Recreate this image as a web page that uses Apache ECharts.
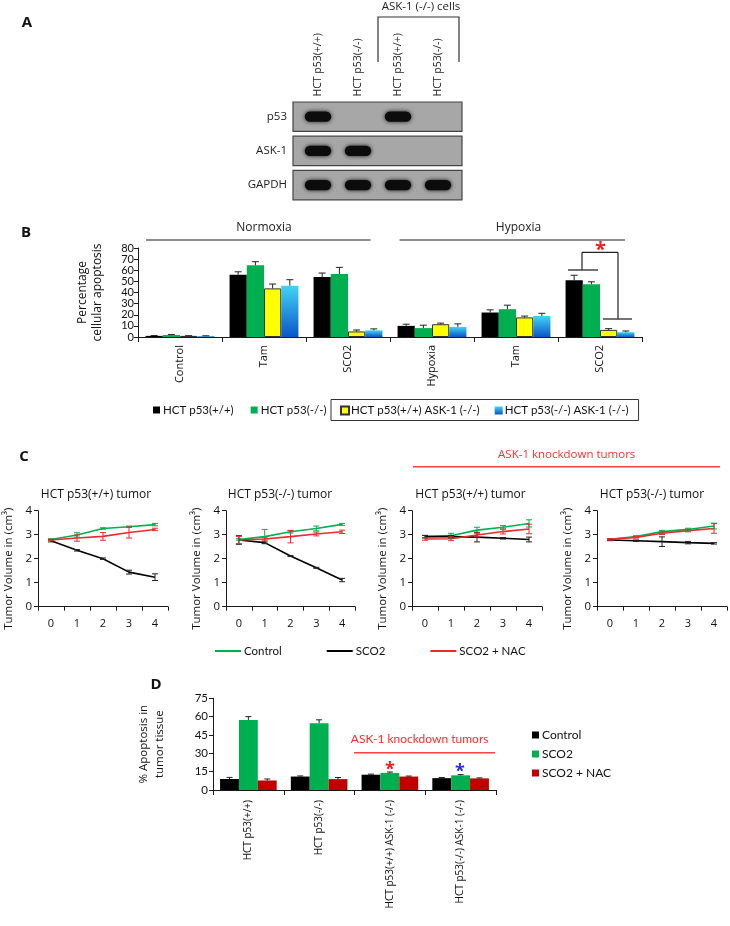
<!DOCTYPE html>
<html>
<head>
<meta charset="utf-8">
<script src="https://cdn.jsdelivr.net/npm/echarts@6/dist/echarts.min.js"></script>
<style>html,body{margin:0;padding:0;background:#fff}#c{width:730px;height:926px}</style>
</head>
<body>
<div id="c"></div>
<script>
// ---------- Panel A : western blot ----------
const laneLabels = ['HCT p53(+/+)', 'HCT p53(-/-)', 'HCT p53(+/+)', 'HCT p53(-/-)'];
const blotRows = ['p53', 'ASK-1', 'GAPDH'];
const bandP53 = [1, 0, 1, 0];
const bandASK1 = [1, 1, 0, 0];
const bandGAPDH = [1, 1, 1, 1];

// ---------- Panel B : cellular apoptosis ----------
const bCategories = ['Control', 'Tam', 'SCO2', 'Hypoxia', 'Tam', 'SCO2'];
const bNames = ['HCT p53(+/+)', 'HCT p53(-/-)', 'HCT p53(+/+) ASK-1 (-/-)', 'HCT p53(-/-) ASK-1 (-/-)'];
const bWT = [1, 56, 54, 10, 22, 51];
const bWTErr = [0.3, 2.6, 3.5, 1.5, 2.4, 4.5];
const bKO = [1.8, 64.4, 56.6, 8, 25, 47.5];
const bKOErr = [0.5, 3.3, 6, 2.6, 3.6, 2.1];
const bWTask = [1, 43.7, 5, 11.5, 17.6, 6.4];
const bWTaskErr = [0.2, 3.9, 1.3, 1, 1.2, 1.1];
const bKOask = [0.8, 46.1, 6, 9.1, 18.9, 4.3];
const bKOaskErr = [0.3, 5.4, 1.3, 2.7, 2.4, 1.1];

// ---------- Panel C : tumor volume ----------
const cDays = ['0', '1', '2', '3', '4'];
const cTitles = ['HCT p53(+/+) tumor', 'HCT p53(-/-) tumor', 'HCT p53(+/+) tumor', 'HCT p53(-/-) tumor'];
const cSeriesNames = ['Control', 'SCO2', 'SCO2 + NAC'];
const c1Control = [2.80, 2.99, 3.26, 3.33, 3.42];
const c1ControlErr = [0.03, 0.09, 0.03, 0.03, 0.05];
const c1SCO2 = [2.75, 2.35, 2.00, 1.44, 1.23];
const c1SCO2Err = [0.05, 0.03, 0.03, 0.08, 0.14];
const c1NAC = [2.78, 2.86, 2.93, 3.09, 3.22];
const c1NACErr = [0.03, 0.13, 0.16, 0.23, 0.05];
const c2Control = [2.80, 2.92, 3.12, 3.26, 3.43];
const c2ControlErr = [0.03, 0.30, 0.05, 0.10, 0.04];
const c2SCO2 = [2.78, 2.67, 2.11, 1.62, 1.11];
const c2SCO2Err = [0.18, 0.03, 0.02, 0.02, 0.07];
const c2NAC = [2.78, 2.82, 2.92, 3.03, 3.12];
const c2NACErr = [0.15, 0.05, 0.26, 0.08, 0.07];
const c3Control = [2.92, 2.96, 3.19, 3.31, 3.47];
const c3ControlErr = [0.05, 0.10, 0.12, 0.07, 0.15];
const c3SCO2 = [2.92, 2.92, 2.90, 2.85, 2.80];
const c3SCO2Err = [0.05, 0.05, 0.20, 0.03, 0.10];
const c3NAC = [2.82, 2.83, 2.99, 3.13, 3.24];
const c3NACErr = [0.05, 0.08, 0.08, 0.10, 0.20];
const c4Control = [2.81, 2.92, 3.13, 3.22, 3.36];
const c4ControlErr = [0.03, 0.04, 0.05, 0.05, 0.12];
const c4SCO2 = [2.78, 2.75, 2.71, 2.67, 2.64];
const c4SCO2Err = [0.03, 0.03, 0.20, 0.05, 0.03];
const c4NAC = [2.81, 2.89, 3.06, 3.17, 3.26];
const c4NACErr = [0.03, 0.03, 0.05, 0.05, 0.20];

// ---------- Panel D : apoptosis in tumor tissue ----------
const dCategories = ['HCT p53(+/+)', 'HCT p53(-/-)', 'HCT p53(+/+) ASK-1 (-/-)', 'HCT p53(-/-) ASK-1 (-/-)'];
const dNames = ['Control', 'SCO2', 'SCO2 + NAC'];
const dControl = [9, 11, 12.5, 9.7];
const dControlErr = [1.3, 0.5, 0.5, 0.5];
const dSCO2 = [57.3, 54.6, 14, 12];
const dSCO2Err = [2.7, 2.8, 0.7, 0.6];
const dNAC = [7.8, 8.9, 11, 9.5];
const dNACErr = [1.2, 1.3, 0.4, 0.4];

// ---------- styles ----------
const FA = '"Open Sans", sans-serif';
const FB = 'Lato, sans-serif';
const BLACK = '#000000', GREEN = '#00b050', YELLOW = '#ffff00', DRED = '#c00000', LRED = '#ee2a2a';
const BLUE = new echarts.graphic.LinearGradient(0, 0, 0, 1, [
  { offset: 0, color: '#42d4f4' }, { offset: 1, color: '#0a55c8' }]);

const chart = echarts.init(document.getElementById('c'), null, { renderer: 'canvas', width: 730, height: 926, devicePixelRatio: 1 });

const cLefts = [38, 226, 412, 597];
const cWidths = [130, 129, 130, 130];
const grids = [
  { left: 298, top: 99.6, width: 160, height: 102.6 },
  { left: 138, top: 248, width: 504, height: 89 },
].concat(cLefts.map((l, i) => ({ left: l, top: 510.7, width: cWidths[i], height: 96 })))
 .concat([{ left: 213, top: 698.3, width: 283, height: 91.7 }]);
grids.forEach(g => { g.outerBoundsMode = 'none'; g.containLabel = false; });

const axLine = { show: true, lineStyle: { color: '#1a1a1a', width: 1 } };
const axTick = (len) => ({ show: true, length: len, lineStyle: { color: '#1a1a1a', width: 1 } });

const xAxes = [], yAxes = [];
// A
xAxes.push({ gridIndex: 0, type: 'category', data: laneLabels, position: 'top',
  axisLine: { show: false }, axisTick: { show: false },
  axisLabel: { rotate: -90, margin: 3, interval: 0, fontSize: 10.5, fontFamily: FA, color: '#222' } });
yAxes.push({ gridIndex: 0, type: 'category', data: blotRows, inverse: true,
  axisLine: { show: false }, axisTick: { show: false },
  axisLabel: { margin: 11, fontSize: 11.5, fontFamily: FA, color: '#222' } });
// B
xAxes.push({ gridIndex: 1, type: 'category', data: bCategories,
  axisLine: axLine, axisTick: axTick(5),
  axisLabel: { rotate: 90, margin: 8, interval: 0, fontSize: 11, fontFamily: FA, color: '#111' } });
yAxes.push({ gridIndex: 1, type: 'value', min: 0, max: 80, interval: 10,
  axisLine: axLine, axisTick: axTick(4), splitLine: { show: false },
  axisLabel: { margin: 4, fontSize: 11, fontFamily: FB, color: '#111', lineHeight: 8,
    showMinLabel: true, showMaxLabel: true, hideOverlap: false },
  name: 'Percentage\ncellular apoptosis', nameLocation: 'middle', nameGap: 33,
  nameTextStyle: { fontSize: 12, fontFamily: FA, color: '#111', lineHeight: 15 } });
// C
for (let i = 0; i < 4; i++) {
  xAxes.push({ gridIndex: 2 + i, type: 'category', data: cDays,
    axisLine: axLine, axisTick: axTick(4),
    axisLabel: { margin: 12, fontSize: 11, fontFamily: FA, color: '#111' } });
  yAxes.push({ gridIndex: 2 + i, type: 'value', min: 0, max: 4, interval: 1,
    axisLine: axLine, axisTick: axTick(4), splitLine: { show: false },
    axisLabel: { margin: 6, fontSize: 11.5, fontFamily: FA, color: '#111', showMinLabel: true, showMaxLabel: true },
    name: 'Tumor Volume in (cm³)', nameLocation: 'middle', nameGap: 23,
    nameTextStyle: { fontSize: 11.5, fontFamily: FA, color: '#111', padding: [0, 20, 0, 0] } });
}
// D
xAxes.push({ gridIndex: 6, type: 'category', data: dCategories,
  axisLine: axLine, axisTick: axTick(5),
  axisLabel: { rotate: 90, margin: 10, interval: 0, fontSize: 10, fontFamily: FA, color: '#111' } });
yAxes.push({ gridIndex: 6, type: 'value', min: 0, max: 75, interval: 15,
  axisLine: axLine, axisTick: axTick(4), splitLine: { show: false },
  axisLabel: { margin: 5, fontSize: 11.5, fontFamily: FB, color: '#111', showMinLabel: true, showMaxLabel: true },
  name: '% Apoptosis in\ntumor tissue', nameLocation: 'middle', nameGap: 45,
  nameTextStyle: { fontSize: 11.5, fontFamily: FA, color: '#111', lineHeight: 16 } });

// error bar helper
function errSeries(ax, vals, errs, idx, n, gapFrac, upOnly, color, cap) {
  return {
    type: 'custom', xAxisIndex: ax, yAxisIndex: ax, z: 6, silent: true,
    data: vals.map((v, i) => [i, v, errs[i]]),
    encode: { x: 0, y: 1 },
    renderItem(params, api) {
      const c = api.value(0), v = api.value(1), e = api.value(2);
      const band = api.size([1, 0])[0];
      let off = 0;
      if (n > 1) { const gw = band * (1 - gapFrac); const bw = gw / n; off = -gw / 2 + bw * (idx + 0.5); }
      const top = api.coord([c, v + e]);
      const bot = api.coord([c, upOnly ? v : v - e]);
      const x = top[0] + off;
      const st = { stroke: color, lineWidth: 1 };
      const ch = [
        { type: 'line', shape: { x1: x, y1: bot[1], x2: x, y2: top[1] }, style: st },
        { type: 'line', shape: { x1: x - cap, y1: top[1], x2: x + cap, y2: top[1] }, style: st }
      ];
      if (!upOnly) ch.push({ type: 'line', shape: { x1: x - cap, y1: bot[1], x2: x + cap, y2: bot[1] }, style: st });
      return { type: 'group', children: ch };
    }
  };
}

const series = [];
// A: blot boxes and bands
series.push({
  type: 'custom', xAxisIndex: 0, yAxisIndex: 0, silent: true, z: 1,
  data: blotRows.map((r, i) => [0, i]), encode: { x: 0, y: 1 },
  renderItem(params, api) {
    const cs = params.coordSys;
    const y = api.coord([0, api.value(1)])[1];
    const h = api.size([0, 1])[1] * 0.86;
    return { type: 'rect', shape: { x: cs.x - 5, y: y - h / 2, width: cs.width + 9, height: h },
      style: { fill: '#a7a7a7', stroke: '#454545', lineWidth: 1.2 } };
  }
});
const bandRows = [bandP53, bandASK1, bandGAPDH];
const bandData = [];
bandRows.forEach((row, r) => row.forEach((v, l) => { if (v > 0) bandData.push([l, r, v]); }));
series.push({
  type: 'custom', xAxisIndex: 0, yAxisIndex: 0, silent: true, z: 2,
  data: bandData, encode: { x: 0, y: 1 },
  renderItem(params, api) {
    const p = api.coord([api.value(0), api.value(1)]);
    const s = api.size([1, 1]);
    const w = s[0] * 0.66, h = s[1] * 0.3;
    return { type: 'rect', shape: { x: p[0] - w / 2, y: p[1] - h / 2, width: w, height: h, r: h / 2 },
      style: { fill: '#0c0c0c', shadowBlur: 4, shadowColor: 'rgba(0,0,0,0.85)' } };
  }
});

// B bars
const bVals = [bWT, bKO, bWTask, bKOask];
const bErrs = [bWTErr, bKOErr, bWTaskErr, bKOaskErr];
const bColors = [BLACK, GREEN, YELLOW, BLUE];
bVals.forEach((vals, i) => {
  series.push({
    name: bNames[i], type: 'bar', xAxisIndex: 1, yAxisIndex: 1,
    barGap: '0%', barCategoryGap: '18%', data: vals,
    itemStyle: i === 2 ? { color: YELLOW, borderColor: '#333', borderWidth: 1 } : { color: bColors[i] }
  });
});
bVals.forEach((vals, i) => series.push(errSeries(1, vals, bErrs[i], i, 4, 0.18, true, '#222', 3.5)));

// C lines
const cData = [
  [c1Control, c1SCO2, c1NAC], [c2Control, c2SCO2, c2NAC],
  [c3Control, c3SCO2, c3NAC], [c4Control, c4SCO2, c4NAC]];
const cErr = [
  [c1ControlErr, c1SCO2Err, c1NACErr], [c2ControlErr, c2SCO2Err, c2NACErr],
  [c3ControlErr, c3SCO2Err, c3NACErr], [c4ControlErr, c4SCO2Err, c4NACErr]];
const cColors = [GREEN, BLACK, LRED];
for (let g = 0; g < 4; g++) {
  for (let s = 0; s < 3; s++) {
    series.push({
      name: cSeriesNames[s], type: 'line', xAxisIndex: 2 + g, yAxisIndex: 2 + g,
      data: cData[g][s], symbol: 'none', z: 3,
      lineStyle: { color: cColors[s], width: 1.6 }, itemStyle: { color: cColors[s] }
    });
    series.push(errSeries(2 + g, cData[g][s], cErr[g][s], 0, 1, 0, false, s === 1 ? '#222' : cColors[s], 3));
  }
}

// D bars
const dVals = [dControl, dSCO2, dNAC];
const dErrs = [dControlErr, dSCO2Err, dNACErr];
const dColors = [BLACK, GREEN, DRED];
dVals.forEach((vals, i) => {
  series.push({
    name: dNames[i], type: 'bar', xAxisIndex: 6, yAxisIndex: 6,
    barGap: '0%', barCategoryGap: '20%', data: vals, itemStyle: { color: dColors[i] }
  });
});
dVals.forEach((vals, i) => series.push(errSeries(6, vals, dErrs[i], i, 3, 0.2, true, '#222', 3)));

// legends
const legends = [
  { data: [bNames[0], bNames[1]], left: 153, top: 404, padding: 0, itemWidth: 7, itemHeight: 7, itemGap: 17,
    icon: 'rect', textStyle: { fontSize: 11.5, fontFamily: FB, color: '#111', padding: [0, 0, 0, -2] } },
  { data: [bNames[2], bNames[3]], left: 331, top: 399.5, padding: [5, 10, 4, 9], itemWidth: 8, itemHeight: 8, itemGap: 15,
    borderColor: '#333', borderWidth: 1, icon: 'rect',
    textStyle: { fontSize: 11.5, fontFamily: FB, color: '#111', padding: [0, 0, 0, -3] } },
  { data: cSeriesNames, left: 215, top: 645, padding: 0, itemWidth: 26, itemHeight: 2, itemGap: 45, icon: 'rect',
    textStyle: { fontSize: 11.5, fontFamily: FB, color: '#111', padding: [0, 0, 0, -2] } },
  { data: dNames.map((n, i) => ({ name: n, itemStyle: { color: dColors[i] } })), orient: 'vertical',
    left: 532, top: 728, padding: 0, itemWidth: 7, itemHeight: 7, itemGap: 5, icon: 'rect',
    textStyle: { fontSize: 12, fontFamily: FB, color: '#111', lineHeight: 14, padding: [0, 0, 0, -2] } }
];

// annotations
function txt(x, y, text, font, fill, align, rot) {
  return { type: 'text', x: x, y: y, rotation: rot || 0, silent: true, z: 10,
    style: { text: text, font: font, fill: fill, align: align || 'center', verticalAlign: 'middle',
      textAlign: align || 'center', textVerticalAlign: 'middle' } };
}
function ln(x1, y1, x2, y2, stroke, w) {
  return { type: 'line', silent: true, z: 10, shape: { x1: x1, y1: y1, x2: x2, y2: y2 }, style: { stroke: stroke, lineWidth: w } };
}
const graphic = [
  txt(27, 23, 'A', 'bold 15px "Open Sans", sans-serif', '#111'),
  txt(26, 233, 'B', 'bold 15px "Open Sans", sans-serif', '#111'),
  txt(24, 457, 'C', 'bold 15px "Open Sans", sans-serif', '#111'),
  txt(156, 685, 'D', 'bold 15px "Open Sans", sans-serif', '#111'),
  // A bracket
  { type: 'polyline', silent: true, shape: { points: [[378, 62], [378, 17], [459, 17], [459, 62]] }, style: { stroke: '#333', lineWidth: 1.2, fill: null } },
  txt(421, 7, 'ASK-1 (-/-) cells', '11.5px "Open Sans", sans-serif', '#222'),
  // B headers
  txt(264, 228, 'Normoxia', '12px "Open Sans", sans-serif', '#222'),
  ln(146, 240, 370.5, 240, '#666', 1.5),
  txt(518.5, 228, 'Hypoxia', '12px "Open Sans", sans-serif', '#222'),
  ln(399.5, 240, 625, 240, '#666', 1.5),
  // B significance bracket
  ln(582, 252.3, 618, 252.3, '#222', 1.2),
  ln(582, 252.3, 582, 270, '#222', 1.2),
  ln(568, 270, 598, 270, '#444', 1.5),
  ln(618, 252.3, 618, 319, '#222', 1.2),
  ln(603, 319, 632, 319, '#444', 1.5),
  txt(600.5, 250, '*', 'bold 20px "Open Sans", sans-serif', '#ff1a1a'),
  // C header
  txt(566.7, 455, 'ASK-1 knockdown tumors', '11.5px "Open Sans", sans-serif', '#ff3030'),
  ln(413, 466.7, 720, 466.7, '#ff4040', 1.5),
  // D header
  txt(419.6, 739, 'ASK-1 knockdown tumors', '12px Lato, sans-serif', '#ff2a2a'),
  ln(354, 752.7, 495, 752.7, '#ff4040', 1.5),
  txt(390, 770, '*', 'bold 18px "Open Sans", sans-serif', '#ff1a1a'),
  txt(460, 772, '*', 'bold 18px "Open Sans", sans-serif', '#2a2ae0')
];
cTitles.forEach((t, i) => {
  const cx = [96, 280, 470.5, 652][i];
  graphic.push(txt(cx, 495, t, '12px "Open Sans", sans-serif', '#111'));
});

chart.setOption({
  animation: false,
  backgroundColor: '#ffffff',
  grid: grids,
  xAxis: xAxes,
  yAxis: yAxes,
  legend: legends,
  series: series,
  graphic: graphic
});
</script>
</body>
</html>
